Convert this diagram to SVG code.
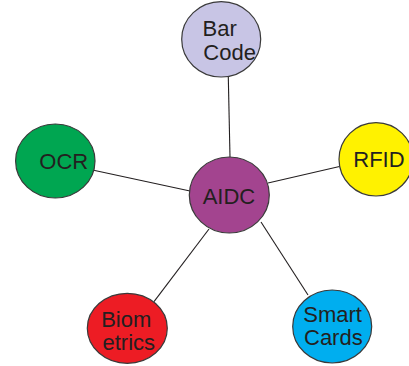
<svg xmlns="http://www.w3.org/2000/svg" width="409" height="366" viewBox="0 0 409 366">
<style>
.n{stroke:#3a3a3a;stroke-width:1.2}
.t{font-family:"Liberation Sans",Arial,sans-serif;font-size:22px;fill:#231f20}
.c{stroke:#231f20;stroke-width:1.1;fill:none}
</style>
<rect width="409" height="366" fill="#ffffff"/>
<g id="connectors">
<line class="c" x1="228.3" y1="77" x2="230" y2="157"/>
<line class="c" x1="89" y1="169.3" x2="190" y2="191"/>
<line class="c" x1="268" y1="183" x2="339.5" y2="166.5"/>
<line class="c" x1="154" y1="301.7" x2="209" y2="229"/>
<line class="c" x1="308" y1="295" x2="261" y2="222"/>
</g>
<g id="barcode"><ellipse class="n" cx="221.2" cy="39.3" rx="39.5" ry="37.7" fill="#c8c5e5"/><text class="t" x="202.5" y="35.5">Bar</text><text class="t" x="203.3" y="59.5">Code</text></g>
<g id="ocr"><ellipse class="n" cx="55.3" cy="161" rx="39.7" ry="37" fill="#00a651"/><text class="t" x="39.3" y="169.3">OCR</text></g>
<g id="aidc"><ellipse class="n" cx="229.3" cy="195" rx="40" ry="38" fill="#a3448f"/><text class="t" x="202.7" y="204">AIDC</text></g>
<g id="rfid"><ellipse class="n" cx="376" cy="159.3" rx="37" ry="36.7" fill="#fff200"/><text class="t" x="353.3" y="166.7">RFID</text></g>
<g id="biometrics"><ellipse class="n" cx="127.3" cy="328.3" rx="40" ry="35" fill="#ed1c24"/><text class="t" x="101.2" y="326.7">Biom</text><text class="t" x="102.5" y="350">etrics</text></g>
<g id="smartcards"><ellipse class="n" cx="332.2" cy="326.5" rx="39.5" ry="36.5" fill="#00aeef"/><text class="t" x="303.3" y="322.3">Smart</text><text class="t" x="304" y="345">Cards</text></g>
</svg>
